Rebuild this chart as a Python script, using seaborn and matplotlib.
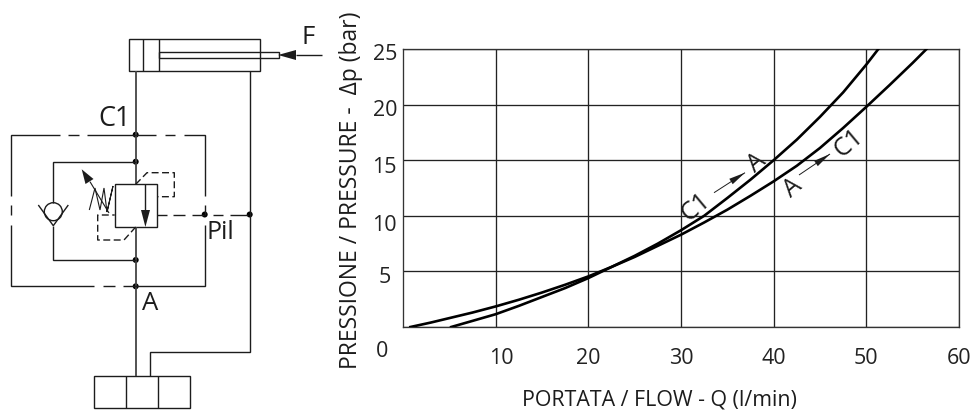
import matplotlib
matplotlib.use("Agg")
import matplotlib.pyplot as plt
from matplotlib.patches import Circle, Polygon, Rectangle
from matplotlib.transforms import ScaledTranslation
import pandas as pd
import seaborn as sns

# ---- chart data ----
flow_a_c1 = [0.8, 3, 5, 7.5, 10, 12.5, 15, 17.5, 20, 22.5, 25, 27.5, 30, 32.5, 35, 37.5, 40, 42.5, 45, 47.5, 50, 52.5, 55, 56.5]
dp_a_c1 = [0, 0.4, 0.8, 1.3, 1.85, 2.45, 3.1, 3.8, 4.55, 5.4, 6.3, 7.3, 8.3, 9.4, 10.55, 11.8, 13.1, 14.5, 16.1, 17.9, 19.8, 21.75, 23.75, 25]
flow_c1_a = [5.2, 7.5, 10, 12.5, 15, 17.5, 20, 22.5, 25, 27.5, 30, 32.5, 35, 37.5, 40, 42.5, 45, 47.5, 50, 51.3]
dp_c1_a = [0, 0.55, 1.15, 1.9, 2.7, 3.5, 4.4, 5.4, 6.4, 7.5, 8.7, 10, 11.6, 13.25, 15, 16.85, 18.9, 21.1, 23.6, 25]
x_ticks = [10, 20, 30, 40, 50, 60]
y_ticks = [0, 5, 10, 15, 20, 25]
x_title = "PORTATA / FLOW - Q (l/min)"
y_title = "PRESSIONE / PRESSURE -  \u0394p (bar)"

FONT = "Open Sans"
plt.rcParams["font.family"] = [FONT, "DejaVu Sans"]
W, H = 973, 412
fig = plt.figure(figsize=(W / 100, H / 100), dpi=100, facecolor="white")

# ---- chart ----
ax = fig.add_axes([403 / W, 1 - 327 / H, (959 - 403) / W, (327 - 49) / H])
df = pd.concat([
    pd.DataFrame({"Q": flow_a_c1, "dp": dp_a_c1, "dir": "A-C1"}),
    pd.DataFrame({"Q": flow_c1_a, "dp": dp_c1_a, "dir": "C1-A"}),
])
sns.lineplot(data=df, x="Q", y="dp", hue="dir", palette=["black", "black"], sort=False,
             estimator=None, legend=False, linewidth=1.9, ax=ax, zorder=5)
ax.set_xlim(0, 60)
ax.set_ylim(0, 25)
ax.set_xticks(x_ticks)
ax.set_yticks(y_ticks)
ax.set_xticklabels([str(v) for v in x_ticks], fontsize=15.5)
ax.set_yticklabels([str(v) for v in y_ticks], fontsize=15.5)
ax.grid(True, color="#222222", linewidth=0.95)
ax.tick_params(length=0, colors="#222222")
ax.tick_params(axis="x", pad=15)
ax.tick_params(axis="y", pad=4.3)
ax.set_xlabel("")
ax.set_ylabel("")
for s in ax.spines.values():
    s.set_color("#333333")
    s.set_linewidth(0.95)
# the tick labels sit a little off their grid lines in the reference
for lab, dx, dy in zip(ax.get_yticklabels(), [-9, -6, 0, 0, 0, 0], [-22, -4, -7, -5, -3, -3]):
    lab.set_transform(lab.get_transform() + ScaledTranslation(dx / 100, dy / 100, fig.dpi_scale_trans))
lab0 = ax.get_xticklabels()[0]
lab0.set_transform(lab0.get_transform() + ScaledTranslation(6 / 100, 0, fig.dpi_scale_trans))

# ---- overlay in pixel coordinates: titles, curve notes, circuit diagram ----
ov = fig.add_axes([0, 0, 1, 1], zorder=10)
ov.set_xlim(0, W)
ov.set_ylim(H, 0)
ov.axis("off")
ov.patch.set_alpha(0)
INK = "#1c1c1c"

def txt(x, y, s, size=15.4, rot=0):
    ov.text(x, y, s, fontsize=size, rotation=rot, ha="center", va="center", color=INK,
            rotation_mode="anchor")

txt(659, 400, x_title)
txt(351, 190, y_title, 16.5, rot=90)
txt(696, 207, "C1", 18, rot=40)
txt(757, 163, "A", 18, rot=40)
txt(793, 188, "A", 18, rot=40)
txt(849, 143, "C1", 18, rot=40)
txt(115, 119, "C1", 19.5)
txt(308, 37, "F", 18.5)
txt(150, 304, "A", 18.5)
txt(220, 232, "Pil", 18)

def seg(xs, ys, lw=1.0, color=INK):
    ov.plot(xs, ys, color=color, lw=lw, solid_capstyle="butt", solid_joinstyle="miter")

def arrow(x0, y0, x1, y1, bx, by, half):
    seg([x0, x1], [y0, y1], 0.7)
    dx, dy = x1 - bx, y1 - by
    n = (dx * dx + dy * dy) ** 0.5
    px, py = -dy / n * half, dx / n * half
    ov.add_patch(Polygon([(x1, y1), (bx + px, by + py), (bx - px, by - py)], color=INK, lw=0))

arrow(714, 192.7, 745, 172.7, 731, 181.5, 3.2)
arrow(799, 175, 830, 154, 816, 163.5, 3.2)

def box(x0, y0, x1, y1):
    ov.add_patch(Rectangle((x0, y0), x1 - x0, y1 - y0, fill=False, ec=INK, lw=1.0))

# cylinder
box(129, 38.5, 259.5, 71.3)
seg([143, 143], [38.5, 71.3])
seg([159, 159], [38.5, 71.3])
box(159, 52.3, 279, 57.7)
ov.add_patch(Polygon([(278, 55), (296, 50), (296, 60)], color=INK, lw=0))
seg([296, 322], [55, 55])
# main lines
seg([135.7, 135.7], [71, 184.3], 1.3, "#444444")
seg([135.7, 135.7], [227, 376], 1.3, "#444444")
seg([249.7, 249.7, 150, 150], [71, 351.7, 351.7, 376])
# pump block
box(94, 376, 190, 408)
seg([126, 126], [376, 408])
seg([158, 158], [376, 408])
# outer pilot loop, drawn as its broken pieces
seg([60, 11, 11], [134.7, 134.7, 195.7])
seg([11, 11], [205, 215])
seg([11, 11, 93.5], [225, 286.3, 286.3])
seg([103, 115], [286.3, 286.3])
seg([123, 204.7, 204.7], [286.3, 286.3, 225])
seg([204.7, 204.7], [205, 214.5])
seg([204.7, 204.7, 184], [196, 134.7, 134.7])
seg([165, 175], [134.7, 134.7])
seg([136, 156], [134.7, 134.7])
seg([68, 78.7], [134.7, 134.7])
seg([87, 135.7], [134.7, 134.7])
for a, b in [(157, 167), (173, 185), (192, 204), (213, 223), (230, 248)]:
    seg([a, b], [214.5, 214.5])
# check-valve branch
seg([135.7, 53.3, 53.3], [161.7, 161.7, 203])
seg([53.3, 53.3, 135.7], [225.7, 260, 260])
ov.add_patch(Circle((53.3, 211.7), 9, fill=False, ec=INK, lw=1.0))
seg([38.3, 53.3, 68.3], [205, 225.7, 205])
# valve body
box(114.7, 184.3, 157.3, 227)
seg([145.3, 145.3], [184.3, 210])
ov.add_patch(Polygon([(141, 210), (150, 210), (145.4, 227)], color=INK, lw=0))
# valve pilot dashes
dash_kw = dict(color=INK, lw=1.0, dashes=(5, 2.5))
ov.plot([135.7, 147, 174.3, 174.3, 157], [184.3, 172.7, 172.7, 196.7, 196.7], **dash_kw)
ov.plot([135.7, 124, 97.7, 97.7, 114.7], [227, 240, 240, 215, 215], **dash_kw)
# spring and adjuster arrow
seg([89.3, 95, 100, 104, 107, 113, 107], [210, 188, 210, 188, 212, 186, 212], 0.8)
seg([109, 90], [213, 181.7], 0.8)
ov.add_patch(Polygon([(81.7, 169.3), (93.5, 179), (85.5, 184)], color=INK, lw=0))
# junction dots
for x, y in [(135.7, 134.7), (135.7, 161.7), (135.7, 260), (135.7, 286.3), (204.7, 214.5), (249.7, 214.5)]:
    ov.add_patch(Circle((x, y), 3.0, color="black", lw=0))

fig.savefig("out.png", dpi=100, facecolor="white")
